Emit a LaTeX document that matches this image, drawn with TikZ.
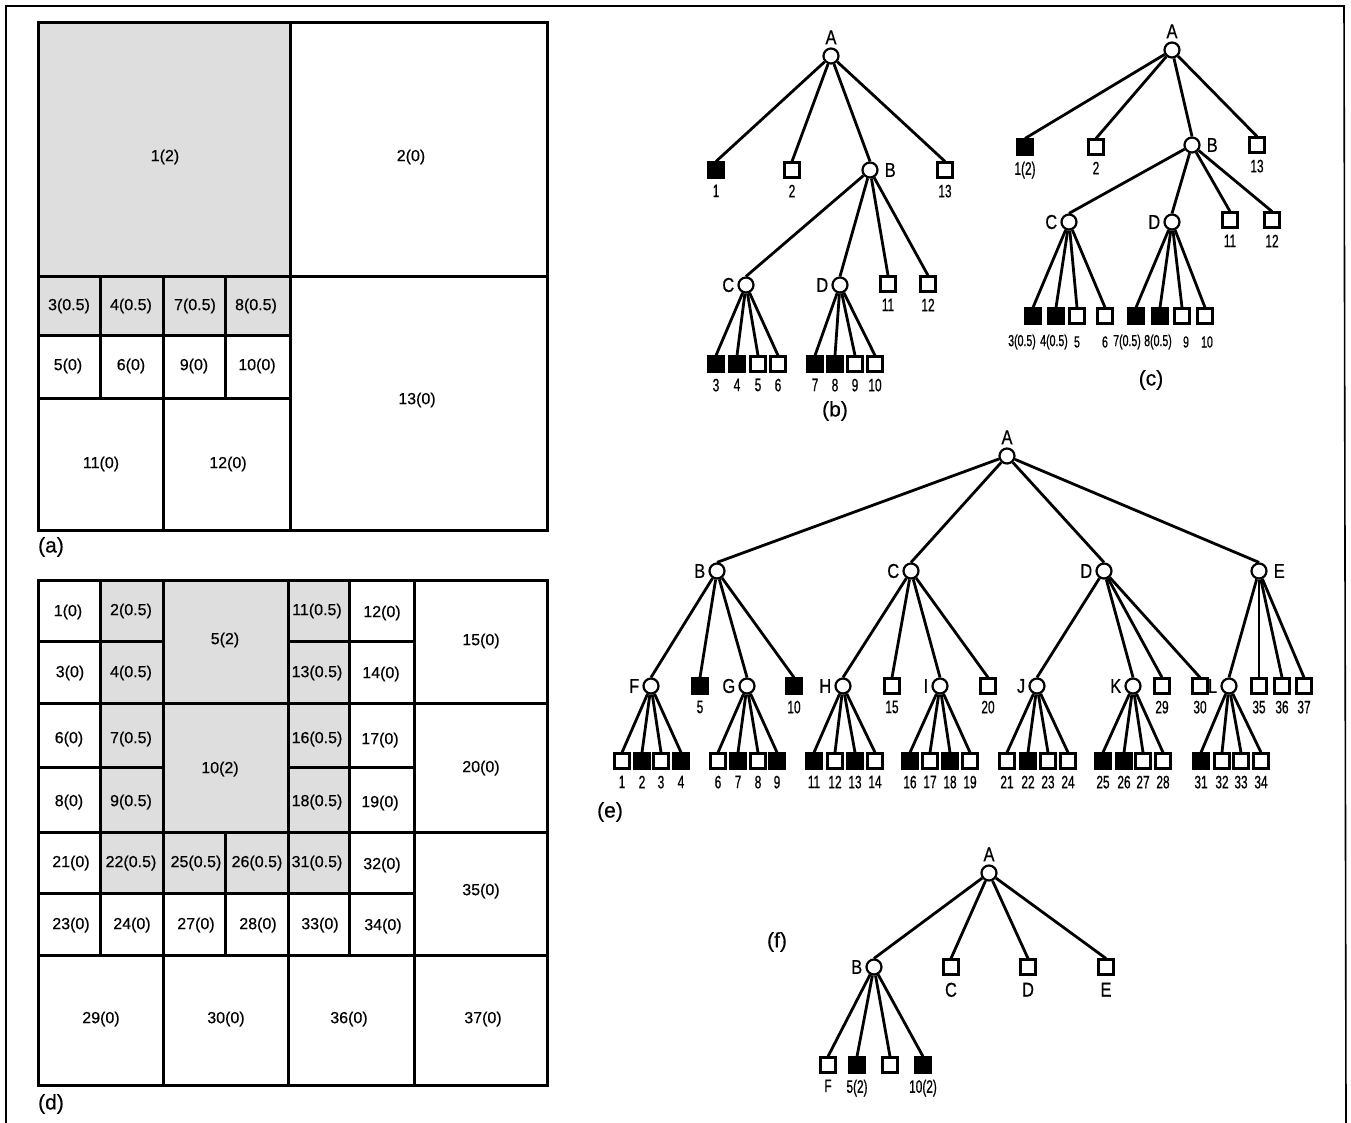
\documentclass[tikz,border=0pt]{standalone}
\usepackage{fontspec}
\setmainfont{Liberation Sans}[FakeBold=0.5]
\newfontfamily\condfont{Liberation Sans}[FakeStretch=0.66,FakeBold=0.7]
\newfontfamily\semifont{Liberation Sans}[FakeStretch=0.82,FakeBold=0.6]
\tikzset{
  gridline/.style={line width=3pt, line cap=rect, line join=miter},
  shadearea/.style={fill=black!13},
  frameline/.style={line width=1.6pt},
  cell/.style={font=\fontsize{16}{16}\selectfont, inner sep=0pt},
  plab/.style={font=\fontsize{21}{21}\selectfont, inner sep=0pt},
  num/.style={font=\condfont\fontsize{18}{18}\selectfont, inner sep=0pt},
  smallnum/.style={font=\condfont\fontsize{16}{16}\selectfont, inner sep=0pt},
  let/.style={font=\semifont\fontsize{20}{20}\selectfont, inner sep=0pt},
  inode/.style={circle, draw, line width=2.2pt, minimum size=15pt, inner sep=0pt, fill=white},
  leaf/.style={rectangle, draw, line width=2.6pt, minimum size=14.5pt, inner sep=0pt, fill=white},
  fleaf/.style={leaf, fill=black},
  edge/.style={line width=2.8pt},
}
\newcommand\mkInA[4]{\node[inode] (#1) at (#2,#3) {}; \node[let,anchor=south] (#1t) at ([yshift=3pt]#1.north) {#4};}
\newcommand\mkInL[4]{\node[inode] (#1) at (#2,#3) {}; \node[let,anchor=east] (#1t) at ([xshift=-3pt]#1.west) {#4};}
\newcommand\mkInR[4]{\node[inode] (#1) at (#2,#3) {}; \node[let,anchor=west] (#1t) at ([xshift=6pt]#1.east) {#4};}
\newcommand\mkLeafO[4]{\node[leaf] (#1) at (#2,#3) {}; \node[num,anchor=north] (#1t) at ([yshift=-6pt]#1.south) {#4};}
\newcommand\mkLeafF[4]{\node[fleaf] (#1) at (#2,#3) {}; \node[num,anchor=north] (#1t) at ([yshift=-6pt]#1.south) {#4};}
\begin{document}
\begin{tikzpicture}[x=1pt,y=-1pt]
\useasboundingbox (0,0) rectangle (1351,1123);
% outer frame
\draw[frameline] (6,1123) -- (6,6) -- (1344,6) -- (1346,1123);

% ---------------- (a)
\fill[shadearea] (38,23) rectangle (290,335);
\draw[gridline] (38,23) rectangle (547,530);
\draw[gridline] (290,23) -- (290,530)
  (100.5,276) -- (100.5,398) (163,276) -- (163,530) (225.5,276) -- (225.5,398)
  (38,276) -- (547,276) (38,335) -- (290,335) (38,398) -- (290,398);
\node[cell] (a1) at (165,157) {1(2)};
\node[cell] (a2) at (411,157) {2(0)};
\node[cell] (a3) at (69,306) {3(0.5)};
\node[cell] (a4) at (131,306) {4(0.5)};
\node[cell] (a7) at (195,306) {7(0.5)};
\node[cell] (a8) at (256,306) {8(0.5)};
\node[cell] (a5) at (68,366) {5(0)};
\node[cell] (a6) at (131,366) {6(0)};
\node[cell] (a9) at (194,366) {9(0)};
\node[cell] (a10) at (257,366) {10(0)};
\node[cell] (a11) at (101,464) {11(0)};
\node[cell] (a12) at (228,464) {12(0)};
\node[cell] (a13) at (417,400) {13(0)};
\node[plab] (pa) at (51,547) {(a)};

% ---------------- (d)
\fill[shadearea] (100.5,580) rectangle (349,893);
\draw[gridline] (38,580) rectangle (547,1085);
\draw[gridline] (100.5,580) -- (100.5,955) (163,580) -- (163,1085)
  (225.5,832) -- (225.5,955) (288,580) -- (288,1085) (349,580) -- (349,955)
  (414,580) -- (414,1085)
  (38,641.5) -- (163,641.5) (288,641.5) -- (414,641.5)
  (38,703) -- (547,703)
  (38,767.5) -- (163,767.5) (288,767.5) -- (414,767.5)
  (38,832) -- (547,832) (38,893) -- (414,893) (38,955) -- (547,955);
\node[cell] (d1) at (68,612) {1(0)};
\node[cell] (d2) at (131,611) {2(0.5)};
\node[cell] (d5) at (225,640) {5(2)};
\node[cell] (d11) at (317,611) {11(0.5)};
\node[cell] (d12) at (382,613) {12(0)};
\node[cell] (d15) at (481,641) {15(0)};
\node[cell] (d3) at (70,673) {3(0)};
\node[cell] (d4) at (131,673) {4(0.5)};
\node[cell] (d13) at (317,673) {13(0.5)};
\node[cell] (d14) at (381,674) {14(0)};
\node[cell] (d6) at (69,739) {6(0)};
\node[cell] (d7) at (131,739) {7(0.5)};
\node[cell] (d10) at (220,769) {10(2)};
\node[cell] (d16) at (317,739) {16(0.5)};
\node[cell] (d17) at (380,740) {17(0)};
\node[cell] (d20) at (481,768) {20(0)};
\node[cell] (d8) at (69,802) {8(0)};
\node[cell] (d9) at (131,802) {9(0.5)};
\node[cell] (d18) at (317,802) {18(0.5)};
\node[cell] (d19) at (380,803) {19(0)};
\node[cell] (d21) at (71,863) {21(0)};
\node[cell] (d22) at (131,863) {22(0.5)};
\node[cell] (d25) at (196,863) {25(0.5)};
\node[cell] (d26) at (257,863) {26(0.5)};
\node[cell] (d31) at (317,863) {31(0.5)};
\node[cell] (d32) at (382,865) {32(0)};
\node[cell] (d35) at (481,891) {35(0)};
\node[cell] (d23) at (71,925) {23(0)};
\node[cell] (d24) at (132,925) {24(0)};
\node[cell] (d27) at (196,925) {27(0)};
\node[cell] (d28) at (258,925) {28(0)};
\node[cell] (d33) at (320,925) {33(0)};
\node[cell] (d34) at (383,926) {34(0)};
\node[cell] (d29) at (101,1019) {29(0)};
\node[cell] (d30) at (226,1019) {30(0)};
\node[cell] (d36) at (349,1019) {36(0)};
\node[cell] (d37) at (483,1019) {37(0)};
\node[plab] (pd) at (51,1104) {(d)};

% ---------------- (b)
\mkInA{bA}{831}{56}{A}
\mkLeafF{b1}{716}{170}{1}
\mkLeafO{b2}{792}{170}{2}
\mkInR{bB}{870}{170}{B}
\mkLeafO{b13}{945}{170}{13}
\mkInL{bC}{746}{285}{C}
\mkInL{bD}{840}{285}{D}
\mkLeafO{b11}{888}{284}{11}
\mkLeafO{b12}{928}{284}{12}
\mkLeafF{b3}{716}{364}{3}
\mkLeafF{b4}{737}{364}{4}
\mkLeafO{b5}{758}{364}{5}
\mkLeafO{b6}{778}{364}{6}
\mkLeafF{b7}{815}{364}{7}
\mkLeafF{b8}{835}{364}{8}
\mkLeafO{b9}{855}{364}{9}
\mkLeafO{b10}{875}{364}{10}
\foreach \c in {b1,b2,bB,b13} \draw[edge] (bA) -- (\c.north);
\foreach \c in {bC,bD,b11,b12} \draw[edge] (bB) -- (\c.north);
\foreach \c in {b3,b4,b5,b6} \draw[edge] (bC) -- (\c.north);
\foreach \c in {b7,b8,b9,b10} \draw[edge] (bD) -- (\c.north);
\node[plab] (pb) at (835,411) {(b)};

% ---------------- (c)
\mkInA{cA}{1172}{50}{A}
\mkLeafF{c1}{1025}{147}{1(2)}
\mkLeafO{c2}{1096}{147}{2}
\mkInR{cB}{1192}{145}{B}
\mkLeafO{c13}{1257}{145}{13}
\mkInL{cC}{1069}{222}{C}
\mkInL{cD}{1172}{222}{D}
\mkLeafO{c11}{1230}{220}{11}
\mkLeafO{c12}{1272}{220}{12}
\node[fleaf] (c3) at (1033,316) {};
\node[fleaf] (c4) at (1056,316) {};
\node[leaf] (c5) at (1077,316) {};
\node[leaf] (c6) at (1105,316) {};
\node[fleaf] (c7) at (1136,316) {};
\node[fleaf] (c8) at (1160,316) {};
\node[leaf] (c9) at (1182,316) {};
\node[leaf] (c10) at (1205,316) {};
\node[smallnum] (c3t) at (1022,342) {3(0.5)};
\node[smallnum] (c4t) at (1054,342) {4(0.5)};
\node[smallnum] (c5t) at (1077,342) {5};
\node[smallnum] (c6t) at (1105,342) {6};
\node[smallnum] (c7t) at (1127,342) {7(0.5)};
\node[smallnum] (c8t) at (1158,342) {8(0.5)};
\node[smallnum] (c9t) at (1186,342) {9};
\node[smallnum] (c10t) at (1207,342) {10};
\foreach \c in {c1,c2,cB,c13} \draw[edge] (cA) -- (\c.north);
\foreach \c in {cC,cD,c11,c12} \draw[edge] (cB) -- (\c.north);
\foreach \c in {c3,c4,c5,c6} \draw[edge] (cC) -- (\c.north);
\foreach \c in {c7,c8,c9,c10} \draw[edge] (cD) -- (\c.north);
\node[plab] (pc) at (1151,380) {(c)};

% ---------------- (e)
\mkInA{eA}{1007}{456}{A}
\mkInL{eB}{717}{571}{B}
\mkInL{eC}{911}{571}{C}
\mkInL{eD}{1104}{571}{D}
\mkInR{eE}{1259}{571}{E}
\mkInL{eF}{651}{686}{F}
\mkLeafF{e5}{700}{686}{5}
\mkInL{eG}{747}{686}{G}
\mkLeafF{e10}{794}{686}{10}
\mkInL{eH}{843}{686}{H}
\mkLeafO{e15}{892}{686}{15}
\mkInL{eI}{940}{686}{I}
\mkLeafO{e20}{988}{686}{20}
\mkInL{eJ}{1037}{686}{J}
\mkInL{eK}{1133}{686}{K}
\mkLeafO{e29}{1162}{686}{29}
\mkLeafO{e30}{1200}{686}{30}
\mkInL{eL}{1229}{686}{L}
\mkLeafO{e35}{1259}{686}{35}
\mkLeafO{e36}{1282}{686}{36}
\mkLeafO{e37}{1304}{686}{37}
\mkLeafO{e1}{622}{761}{1}
\mkLeafF{e2}{642}{761}{2}
\mkLeafO{e3}{661}{761}{3}
\mkLeafF{e4}{681}{761}{4}
\mkLeafO{e6}{718}{761}{6}
\mkLeafF{e7}{738}{761}{7}
\mkLeafO{e8}{758}{761}{8}
\mkLeafF{e9}{777}{761}{9}
\mkLeafF{e11}{814}{761}{11}
\mkLeafO{e12}{835}{761}{12}
\mkLeafF{e13}{855}{761}{13}
\mkLeafO{e14}{875}{761}{14}
\mkLeafF{e16}{910}{761}{16}
\mkLeafO{e17}{930}{761}{17}
\mkLeafF{e18}{950}{761}{18}
\mkLeafO{e19}{970}{761}{19}
\mkLeafO{e21}{1007}{761}{21}
\mkLeafF{e22}{1028}{761}{22}
\mkLeafO{e23}{1048}{761}{23}
\mkLeafO{e24}{1068}{761}{24}
\mkLeafF{e25}{1103}{761}{25}
\mkLeafF{e26}{1124}{761}{26}
\mkLeafO{e27}{1143}{761}{27}
\mkLeafO{e28}{1163}{761}{28}
\mkLeafF{e31}{1201}{761}{31}
\mkLeafO{e32}{1222}{761}{32}
\mkLeafO{e33}{1241}{761}{33}
\mkLeafO{e34}{1261}{761}{34}
\foreach \c in {eB,eC,eD,eE} \draw[edge] (eA) -- (\c.north);
\foreach \c in {eF,e5,eG,e10} \draw[edge] (eB) -- (\c.north);
\foreach \c in {eH,e15,eI,e20} \draw[edge] (eC) -- (\c.north);
\foreach \c in {eJ,eK,e29,e30} \draw[edge] (eD) -- (\c.north);
\foreach \c in {eL,e35,e36,e37} \draw[edge] (eE) -- (\c.north);
\foreach \c in {e1,e2,e3,e4} \draw[edge] (eF) -- (\c.north);
\foreach \c in {e6,e7,e8,e9} \draw[edge] (eG) -- (\c.north);
\foreach \c in {e11,e12,e13,e14} \draw[edge] (eH) -- (\c.north);
\foreach \c in {e16,e17,e18,e19} \draw[edge] (eI) -- (\c.north);
\foreach \c in {e21,e22,e23,e24} \draw[edge] (eJ) -- (\c.north);
\foreach \c in {e25,e26,e27,e28} \draw[edge] (eK) -- (\c.north);
\foreach \c in {e31,e32,e33,e34} \draw[edge] (eL) -- (\c.north);
\node[plab] (pe) at (610,812) {(e)};

% ---------------- (f)
\mkInA{fA}{989}{873}{A}
\mkInL{fB}{874}{967}{B}
\node[leaf] (fC) at (951,967) {};
\node[let,anchor=north] (fCt) at ([yshift=-7pt]fC.south) {C};
\node[leaf] (fD) at (1028,967) {};
\node[let,anchor=north] (fDt) at ([yshift=-7pt]fD.south) {D};
\node[leaf] (fE) at (1106,967) {};
\node[let,anchor=north] (fEt) at ([yshift=-7pt]fE.south) {E};
\mkLeafO{fF}{828}{1065}{F}
\mkLeafF{f5}{857}{1065}{5(2)}
\node[leaf] (fX) at (890,1065) {};
\mkLeafF{f10}{923}{1065}{10(2)}
\foreach \c in {fB,fC,fD,fE} \draw[edge] (fA) -- (\c.north);
\foreach \c in {fF,f5,fX,f10} \draw[edge] (fB) -- (\c.north);
\node[plab] (pf) at (777,942) {(f)};
\end{tikzpicture}
\end{document}
